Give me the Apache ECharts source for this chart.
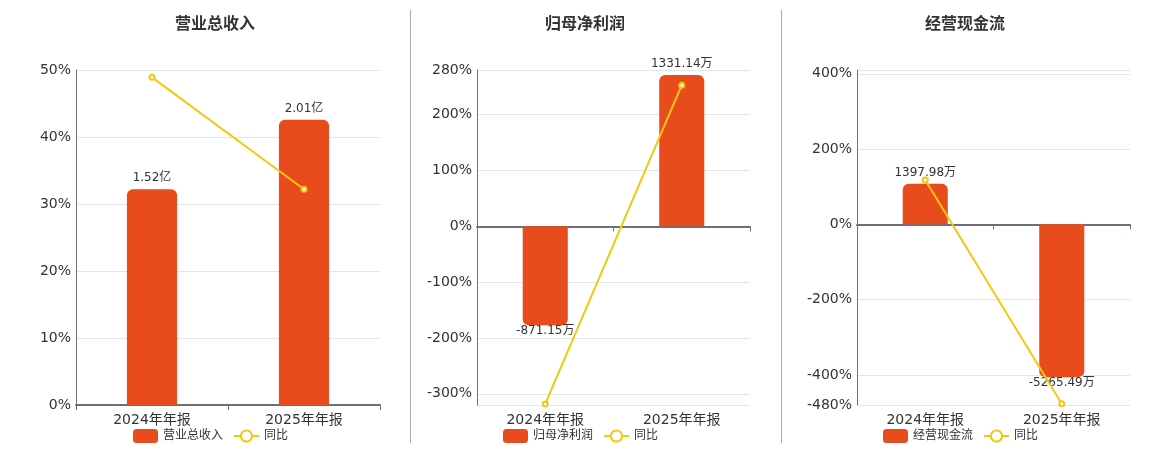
<!DOCTYPE html>
<html>
<head>
<meta charset="utf-8">
<script src="https://cdn.jsdelivr.net/npm/echarts@6/dist/echarts.min.js"></script>
<style>
html,body{margin:0;padding:0;background:#fff;}
#c{width:1160px;height:450px;}
</style>
</head>
<body>
<div id="c"></div>
<script>
// ---- data ----
const categories = ['2024年年报', '2025年年报'];
const panelTitles = ['营业总收入', '归母净利润', '经营现金流'];
const yoyName = '同比';

const revenueValues = [1.52, 2.01];        // 亿
const revenueYoY = [48.9, 32.2];           // %
const profitValues = [-871.15, 1331.14];   // 万
const profitYoY = [-318, 252.8];           // %
const cashValues = [1397.98, -5265.49];    // 万
const cashYoY = [118, -476.7];             // %

const revenueTickLabels = [0, 10, 20, 30, 40, 50];
const profitTickLabels = [-300, -200, -100, 0, 100, 200, 280];
const cashTickLabels = [-480, -400, -200, 0, 200, 400];
const profitGridLines = [-320, -300, -200, -100, 0, 100, 200, 280];
const cashGridLines = [-480, -400, -200, 0, 200, 400, 410];

const units = ['亿', '万', '万'];

// ---- layout/config (not data) ----
const panels = [
  { title: panelTitles[0], values: revenueValues, yoy: revenueYoY, unit: units[0],
    pMin: 0, pMax: 50, labels: revenueTickLabels, grid: revenueTickLabels,
    bMin: 0, bMax: 2.36, left: 76, width: 304, center: 210 },
  { title: panelTitles[1], values: profitValues, yoy: profitYoY, unit: units[1],
    pMin: -320, pMax: 280, labels: profitTickLabels, grid: profitGridLines,
    bMin: -1572, bMax: 1375, left: 477, width: 273, center: 580 },
  { title: panelTitles[2], values: cashValues, yoy: cashYoY, unit: units[2],
    pMin: -480, pMax: 410, labels: cashTickLabels, grid: cashGridLines,
    bMin: -6226, bMax: 5318, left: 857, width: 273, center: 960 }
];

const BAR = '#E84C1D';
const LINE = '#F2C811';
const AXIS = '#6E7079';
const FONT = '"DejaVu Sans", "Noto Sans CJK SC", sans-serif';
const TFONT = '"Noto Sans CJK SC", sans-serif';

const option = {
  animation: false,
  textStyle: { fontFamily: FONT },
  title: [], grid: [], xAxis: [], yAxis: [], series: [], legend: [],
  graphic: [
    { type: 'line', shape: { x1: 410.5, y1: 10, x2: 410.5, y2: 443 }, style: { stroke: '#aaa', lineWidth: 1 } },
    { type: 'line', shape: { x1: 781.5, y1: 10, x2: 781.5, y2: 443 }, style: { stroke: '#aaa', lineWidth: 1 } }
  ]
};

panels.forEach((p, i) => {
  option.title.push({
    text: p.title, left: p.center, top: 10, textAlign: 'center',
    textStyle: { fontSize: 16, fontWeight: 'bold', color: '#333', fontFamily: TFONT }
  });
  option.grid.push({ left: p.left, width: p.width, top: 70, bottom: 45 });
  // primary x axis: line at zero with ticks
  option.xAxis.push({
    type: 'category', gridIndex: i, data: categories, position: 'bottom',
    axisLine: { onZero: true, lineStyle: { color: AXIS, width: 2 } },
    axisTick: { show: true, length: 5, lineStyle: { color: AXIS } },
    axisLabel: { show: false }, splitLine: { show: false }
  });
  // secondary x axis: labels at bottom
  option.xAxis.push({
    type: 'category', gridIndex: i, data: categories, position: 'bottom',
    axisLine: { show: false, onZero: false }, axisTick: { show: false },
    axisLabel: { show: true, fontSize: 14, color: '#333', margin: 8, fontFamily: FONT },
    splitLine: { show: false }
  });
  // percent axis
  option.yAxis.push({
    type: 'value', gridIndex: i, min: p.pMin, max: p.pMax, position: 'left',
    axisLine: { show: true, lineStyle: { color: AXIS, width: 1 } },
    axisTick: { show: false, customValues: p.grid },
    axisLabel: { customValues: p.labels, formatter: '{value}%', fontSize: 14, color: '#333', margin: 5, fontFamily: FONT },
    splitLine: { show: true, lineStyle: { color: '#E0E6F1' } }
  });
  // hidden bar value axis
  option.yAxis.push({
    type: 'value', gridIndex: i, min: p.bMin, max: p.bMax, position: 'left', show: false,
    splitLine: { show: false }
  });
  option.series.push({
    name: p.title, type: 'bar', xAxisIndex: i * 2, yAxisIndex: i * 2 + 1,
    barWidth: '33%',
    itemStyle: { color: BAR },
    data: p.values.map(v => ({
      value: v,
      itemStyle: { borderRadius: v >= 0 ? [6, 6, 0, 0] : [0, 0, 6, 6] },
      label: { position: v >= 0 ? 'top' : 'bottom', distance: v >= 0 ? 5 : 0 }
    })),
    label: {
      show: true, fontSize: 12, color: '#333', fontFamily: FONT,
      formatter: (d) => d.value + p.unit
    }
  });
  option.series.push({
    name: yoyName, type: 'line', xAxisIndex: i * 2, yAxisIndex: i * 2,
    data: p.yoy, symbol: 'emptyCircle', symbolSize: 5,
    itemStyle: { color: LINE }, lineStyle: { color: LINE, width: 2 }
  });
  option.legend.push({
    data: [p.title, yoyName], top: 424,
    left: p.center - 82,
    itemWidth: 25, itemHeight: 14, itemGap: 10,
    textStyle: { fontSize: 12, color: '#333', fontFamily: FONT }
  });
});

const chart = echarts.init(document.getElementById('c'), null, { renderer: 'canvas' });
chart.setOption(option);
</script>
</body>
</html>
